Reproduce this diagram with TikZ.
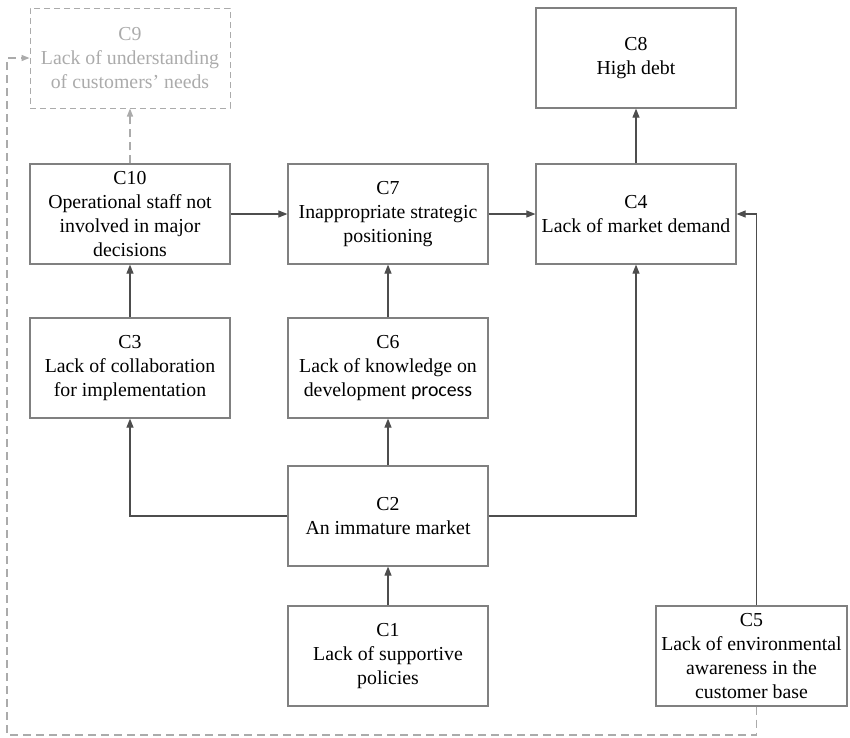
\documentclass[tikz,border=0pt]{standalone}
\usepackage{fontspec}
\setmainfont{Liberation Serif}
\setsansfont{Carlito}
\usetikzlibrary{arrows.meta}
\definecolor{boxgray}{HTML}{808080}
\definecolor{arrgray}{HTML}{4D4D4D}
\definecolor{lightg}{HTML}{ABABAB}
\begin{document}
\begin{tikzpicture}[x=1pt,y=-1pt,
  box/.style={draw=boxgray, line width=1.2pt, minimum width=200pt, minimum height=100pt,
    inner sep=0pt, align=center, font=\rmfamily\fontsize{19.8}{24}\selectfont},
  ghostbox/.style={box, draw=lightg, text=lightg, line width=1pt, dash pattern=on 6pt off 4pt},
  arr/.style={draw=arrgray, line width=1.1pt, -{Triangle[length=9pt,width=7pt]}},
  dasharr/.style={draw=lightg, line width=1.4pt, dash pattern=on 8pt off 5pt, -{Triangle[length=8pt,width=6pt]}}]
\useasboundingbox (0,0) rectangle (850,737);
\node[ghostbox] (c9) at (130,58) {C9\\Lack of understanding\\of customers’ needs};
\node[box] (c8) at (636,58) {C8\\High debt};
\node[box] (c10) at (130,214) {C10\\Operational staff not\\involved in major\\decisions};
\node[box] (c7) at (388,214) {C7\\Inappropriate strategic\\positioning};
\node[box] (c4) at (636,214) {C4\\Lack of market demand};
\node[box] (c3) at (130,368) {C3\\Lack of collaboration\\for implementation};
\node[box] (c6) at (388,368) {C6\\Lack of knowledge on\\development {\sffamily process}};
\node[box] (c2) at (388,516) {C2\\An immature market};
\node[box] (c1) at (388,656) {C1\\Lack of supportive\\policies};
\node[box, minimum width=191pt] (c5) at (751.5,656) {C5\\Lack of environmental\\awareness in the\\customer base};
\coordinate (lb) at (7,735);
\draw[arr] (c10) -- (c7);
\draw[arr] (c7) -- (c4);
\draw[arr] (c4) -- (c8);
\draw[arr] (c3) -- (c10);
\draw[arr] (c6) -- (c7);
\draw[arr] (c2) -- (c6);
\draw[arr] (c1) -- (c2);
\draw[arr] (c2.west) -| (c3.south);
\draw[arr] (c2.east) -| (c4.south);
\draw[arr] ([xshift=5pt]c5.north) |- (c4.east);
\draw[dasharr] (c10) -- (c9);
\draw[dasharr] ([xshift=5pt]c5.south) |- (lb) |- (c9.west);
\end{tikzpicture}
\end{document}
